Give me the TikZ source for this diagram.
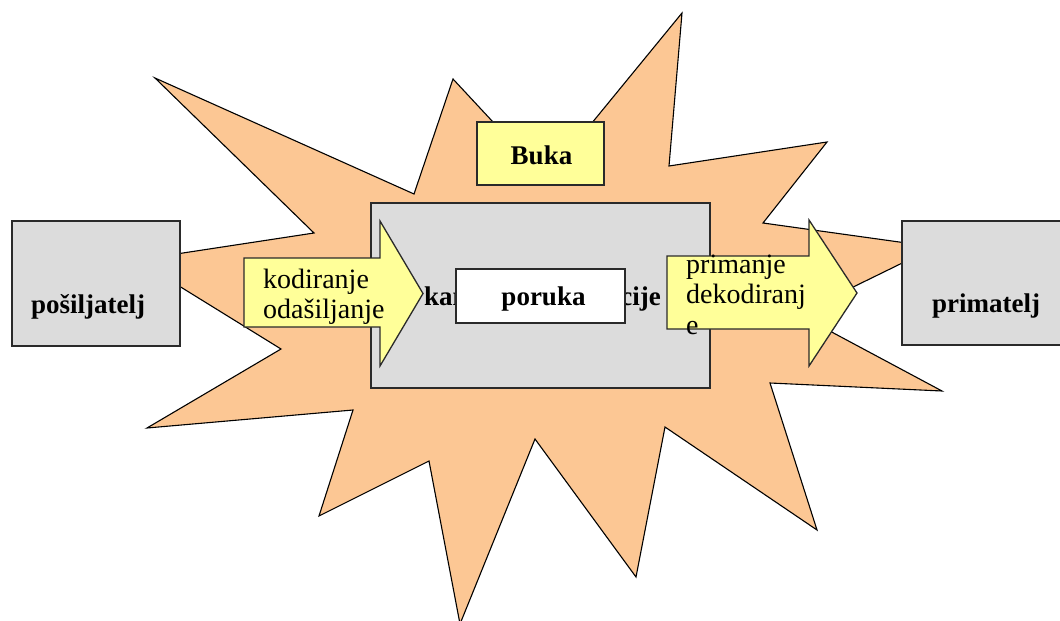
\documentclass[tikz,border=0pt]{standalone}
\usepackage{fontspec}
\setmainfont{Liberation Serif}
\definecolor{peach}{HTML}{FCC794}
\definecolor{boxgray}{HTML}{DCDCDC}
\definecolor{yel}{HTML}{FFFF99}
\definecolor{edge}{HTML}{2A2A2A}
\tikzset{
  grbox/.style={draw=edge, line width=1.3pt, fill=boxgray, inner sep=0pt, outer sep=0pt},
  ybox/.style={draw=edge, line width=1.3pt, fill=yel, inner sep=0pt, outer sep=0pt},
  wbox/.style={draw=edge, line width=1.3pt, fill=white, inner sep=0pt, outer sep=0pt},
  boldtxt/.style={font=\fontsize{27}{27}\selectfont\bfseries, inner sep=0pt, anchor=base},
  regtxt/.style={font=\fontsize{28}{28}\selectfont, inner sep=0pt, anchor=base west},
  starshape/.style={draw=black, line width=1.1pt, fill=peach, line join=miter},
  arrowshape/.style={draw=edge, line width=1.3pt, fill=yel, line join=miter},
}
\begin{document}
\begin{tikzpicture}[x=1pt, y=-1pt]
\useasboundingbox (0,0) rectangle (1060,621);
\clip (0,0) rectangle (1060,621);
% noise star
\draw[starshape] (155,78) -- (414,194) -- (453,79) -- (546,179) -- (682,13) -- (669,166)
  -- (827,142) -- (763,223) -- (935,247) -- (798,314) -- (942,391) -- (770,383)
  -- (817,530) -- (665,427) -- (636,577) -- (535,439) -- (460,624) -- (429,461)
  -- (319,516) -- (353,410) -- (147,428) -- (281,349) -- (137,260) -- (314,233) -- cycle;
% sender / receiver
\node[grbox, minimum width=168pt, minimum height=125pt] (pos) at (96,283.5) {};
\node[boldtxt] (posT) at (88,313) {pošiljatelj};
\node[grbox, minimum width=178pt, minimum height=124pt] (prim) at (991,283) {};
\node[boldtxt] (primT) at (986,312) {primatelj};
% channel (its label is partly covered by the message box)
\node[grbox, minimum width=339pt, minimum height=185pt] (chan) at (540.5,295.5) {};
\node[boldtxt, anchor=base west] (chanL) at (424,305) {kan};
\node[boldtxt, anchor=base east] (chanR) at (661,305) {cije};
\node[wbox, minimum width=169pt, minimum height=54pt] (msg) at (540.5,296) {};
\node[boldtxt] (msgT) at (543.5,305) {poruka};
% noise label
\node[ybox, minimum width=127pt, minimum height=63pt] (buka) at (540.5,153.5) {};
\node[boldtxt] (bukaT) at (541.5,164) {Buka};
% left arrow
\draw[arrowshape] (244,258) -- (380,258) -- (380,221) -- (423,293.5) -- (380,366)
  -- (380,327) -- (244,327) -- cycle;
\node[regtxt] (kod1) at (263,288) {kodiranje};
\node[regtxt] (kod2) at (263,318) {odašiljanje};
% right arrow
\draw[arrowshape] (667,256) -- (809,256) -- (809,220) -- (857,293) -- (809,366)
  -- (809,329) -- (667,329) -- cycle;
\node[regtxt] (dek1) at (686,273) {primanje};
\node[regtxt] (dek2) at (686,303) {dekodiranj};
\node[regtxt] (dek3) at (686,334) {e};
\end{tikzpicture}
\end{document}
